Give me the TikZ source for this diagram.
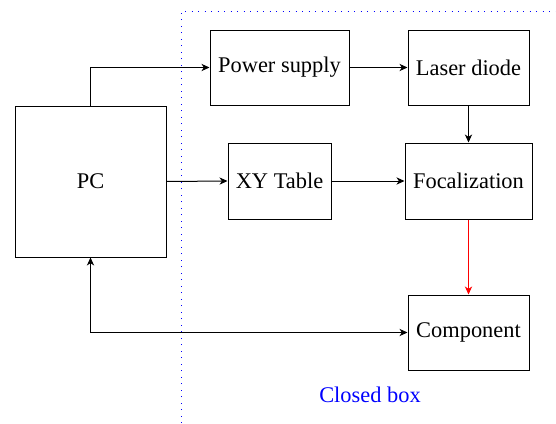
\documentclass[tikz,border=0pt]{standalone}
\usepackage{fontspec}
\setmainfont{Liberation Serif}
\usetikzlibrary{arrows.meta}
\begin{document}
\begin{tikzpicture}[x=0.5pt,y=-0.5pt,
  blk/.style={draw,line width=0.5pt,minimum height=37.5pt,inner sep=0pt,font=\fontsize{11.2}{13.4}\selectfont},
  conn/.style={line width=0.5pt,-{Stealth[length=4pt,width=3.6pt,inset=1.2pt]}},
  boxline/.style={blue,line width=0.5pt,dash pattern=on 0.5pt off 2.75pt}]
\useasboundingbox (0,0) rectangle (556,423);
\draw[boxline] (181,423) -- (181,11) -- (556,11);
\node[blk,minimum width=75.5pt,minimum height=75.5pt] (pc) at (90.5,181.5) {PC};
\node[blk,minimum width=69.5pt] (ps) at (279.5,67.5) {Power supply};
\node[blk,minimum width=60.5pt] (ld) at (468.5,67.5) {Laser diode};
\node[blk,minimum width=51.5pt,minimum height=38pt] (xy) at (279.5,181) {XY Table};
\node[blk,minimum width=63.5pt,minimum height=38pt] (fo) at (468.5,181) {Focalization};
\node[blk,minimum width=60.5pt] (co) at (468.5,332.5) {Component};
\node[text=blue,font=\fontsize{11.2}{13.4}\selectfont] (cb) at (370,395) {Closed box};
\draw[conn] (pc.north) |- (ps.west);
\draw[conn] (ps.east) -- (ld.west);
\draw[conn] (pc.east) -- (xy.west);
\draw[conn] (xy.east) -- (fo.west);
\draw[conn] (ld.south) -- (fo.north);
\draw[conn,red] (fo.south) -- (co.north);
\draw[conn,{Stealth[length=4pt,width=3.6pt,inset=1.2pt]}-{Stealth[length=4pt,width=3.6pt,inset=1.2pt]}] (pc.south) |- (co.west);
\end{tikzpicture}
\end{document}
